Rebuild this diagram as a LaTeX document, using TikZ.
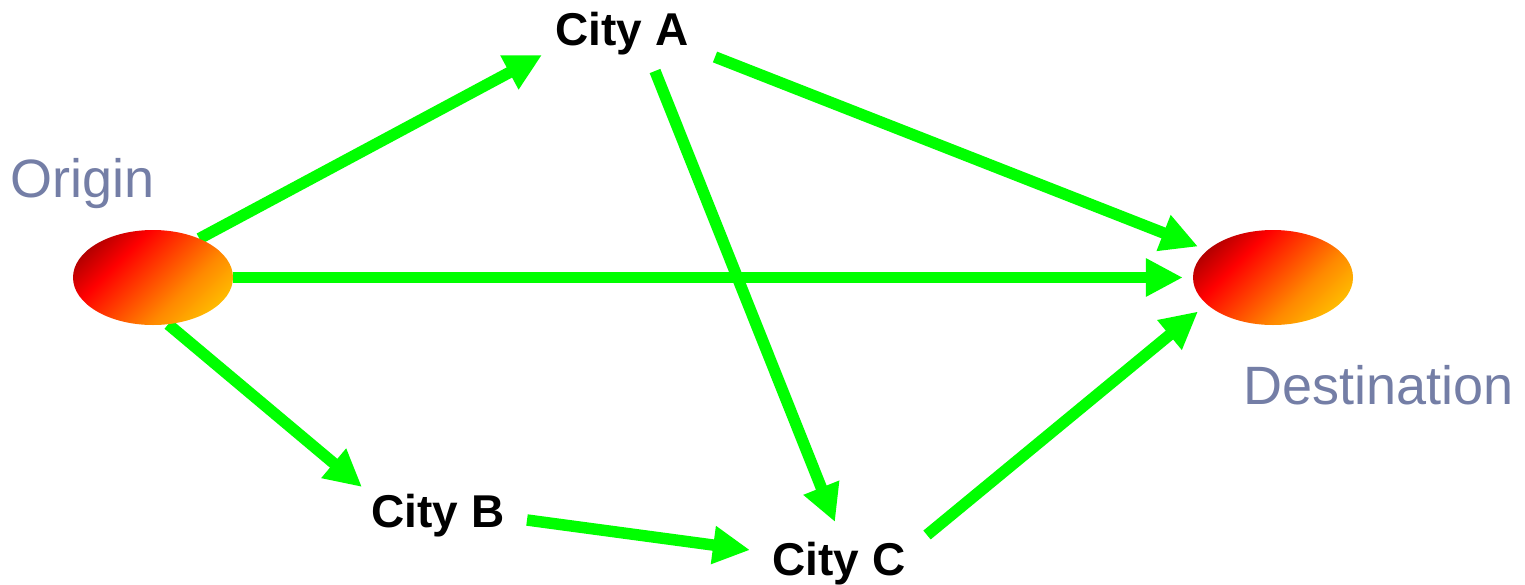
\documentclass[tikz,border=0pt]{standalone}
\usepackage{fontspec}
\setmainfont{Liberation Sans}
\usetikzlibrary{arrows.meta,shapes.geometric}

\definecolor{linkgreen}{RGB}{0,255,0}
\definecolor{labelblue}{RGB}{116,126,166}
\definecolor{fbdark}{RGB}{140,0,0}
\definecolor{fbred}{RGB}{255,0,0}
\definecolor{fborange}{RGB}{255,135,0}
\definecolor{fbyellow}{RGB}{255,210,0}

% red-to-yellow fill of the two end points
\pgfdeclarehorizontalshading{fireball}{100bp}{%
  color(0bp)=(fbdark); color(18bp)=(fbdark); color(36bp)=(fbred);
  color(62bp)=(fborange); color(82bp)=(fbyellow); color(100bp)=(fbyellow)}

\pgfdeclarelayer{links}
\pgfsetlayers{links,main}

\tikzset{
  place/.style={ellipse, minimum width=160pt, minimum height=95pt, inner sep=0pt,
    draw=none, shade, shading=fireball, shading angle=-45},
  endlabel/.style={inner sep=0pt, text=labelblue, font=\fontsize{54}{60}\selectfont},
  city/.style={inner sep=0pt, text=black, font=\fontsize{46}{52}\selectfont\bfseries},
  link/.style={draw=linkgreen, line width=11.5pt,
    -{Triangle[length=37pt,width=36pt]}}
}

\begin{document}
\begin{tikzpicture}[x=1pt,y=-1pt]
  \useasboundingbox (0,0) rectangle (1525,584);

  % end points and their labels
  \node[place] (origin) at (153,277.5) {};
  \node[place] (dest) at (1273,277.5) {};
  \node[endlabel, anchor=base west] (originlabel) at (10,197) {Origin};
  \node[endlabel, anchor=base west] (destlabel) at (1243,404) {Destination};

  % intermediate cities
  \node[city, anchor=base] (cityA) at (622,45) {City A};
  \node[city, anchor=base] (cityB) at (438,527) {City B};
  \node[city, anchor=base] (cityC) at (839,575) {City C};

  % routes, kept behind the end points
  \begin{pgfonlayer}{links}
    \draw[link] (origin.40) -- ([shift={(-80,10)}]cityA.base);
    \draw[link] (origin.east) -- ([shift={(-10,0)}]dest.west);
    \draw[link] (origin.-72) -- ([shift={(-76,-40)}]cityB.base);
    \draw[link] ([shift={(93,12)}]cityA.base) -- ([shift={(-75,-31)}]dest.center);
    \draw[link] ([shift={(33,26)}]cityA.base) -- ([shift={(-4,-53)}]cityC.base);
    \draw[link] ([shift={(89,-7)}]cityB.base) -- ([shift={(-89,-25)}]cityC.base);
    \draw[link] ([shift={(88,-40)}]cityC.base) -- ([shift={(-75,34)}]dest.center);
  \end{pgfonlayer}
\end{tikzpicture}
\end{document}
